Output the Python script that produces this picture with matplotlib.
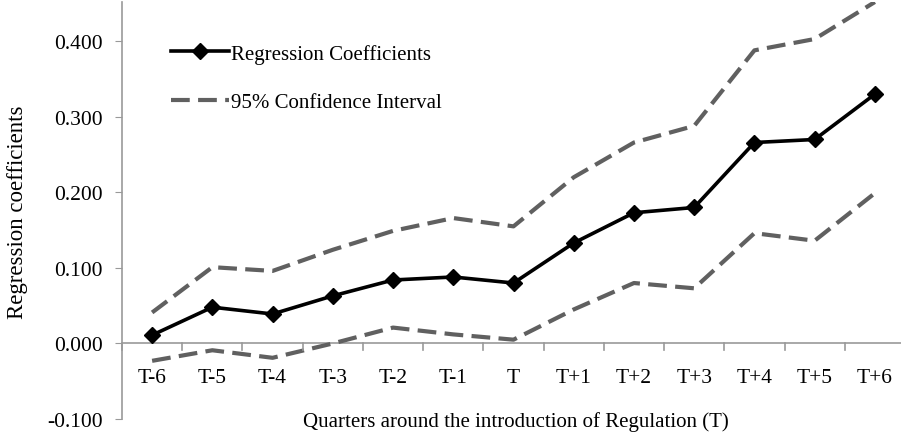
import matplotlib
matplotlib.use("Agg")
import matplotlib.pyplot as plt
import numpy as np

plt.rcParams['font.family'] = ['Liberation Serif', 'DejaVu Serif']

quarters = ['T-6', 'T-5', 'T-4', 'T-3', 'T-2', 'T-1', 'T',
            'T+1', 'T+2', 'T+3', 'T+4', 'T+5', 'T+6']
coef = [0.011, 0.048, 0.039, 0.063, 0.084, 0.088, 0.080,
        0.133, 0.173, 0.180, 0.266, 0.270, 0.330]
ci_upper = [0.041, 0.101, 0.096, 0.124, 0.149, 0.166, 0.155,
            0.220, 0.266, 0.288, 0.388, 0.403, 0.452]
ci_lower = [-0.023, -0.009, -0.019, 0.000, 0.021, 0.012, 0.005,
            0.045, 0.080, 0.073, 0.146, 0.136, 0.199]
yticks = [-0.1, 0.0, 0.1, 0.2, 0.3, 0.4]

fig = plt.figure(figsize=(9.01, 4.39), dpi=100)
ax = fig.add_axes([122/901, (439-420)/439, 783/901, (420-3)/439])

x = np.arange(len(quarters))
ax.plot(x, ci_upper, color='#606060', lw=3, dashes=(4.5, 2),
        label='95% Confidence Interval')
ax.plot(x, ci_lower, color='#606060', lw=3, dashes=(4.5, 2))
ax.plot(x, coef, color='black', lw=2.6, marker='D', ms=8,
        label='Regression Coefficients')

ax.set_xlim(-0.5, len(quarters) - 0.5)
ax.set_ylim(-0.1, 0.452)
ax.set_yticks(yticks)
ax.set_yticklabels(['%.3f' % v for v in yticks], fontsize=15.5)
ax.tick_params(axis='y', length=5, color='#999999', pad=9)

# category axis crossing at zero
for s in ['top', 'right', 'bottom']:
    ax.spines[s].set_visible(False)
ax.spines['left'].set_color('#999999')
ax.spines['left'].set_linewidth(1.2)
ax.axhline(0, color='#999999', lw=1.2, zorder=1)
ax.set_xticks([])
for b in np.arange(-0.5, len(quarters), 1.0):
    ax.plot([b, b], [0, -0.009], color='#999999', lw=1.2, clip_on=False)
for i, q in enumerate(quarters):
    ax.text(i, -0.045, q, ha='center', va='center', fontsize=15.5)

fig.text(516/901, 1 - 422/439, 'Quarters around the introduction of Regulation (T)',
         fontsize=15, ha='center', va='center')
fig.text(18/901, 1 - 212/439, 'Regression coefficients', rotation=90,
         ha='center', va='center', fontsize=16.5)

h, l = ax.get_legend_handles_labels()
ax.legend([h[1], h[0]], [l[1], l[0]], loc='upper left',
          bbox_to_anchor=(0.038, 0.945), frameon=False, fontsize=15,
          handlelength=2.8, handletextpad=0.1, labelspacing=1.4)

fig.savefig('out.png', dpi=100)
